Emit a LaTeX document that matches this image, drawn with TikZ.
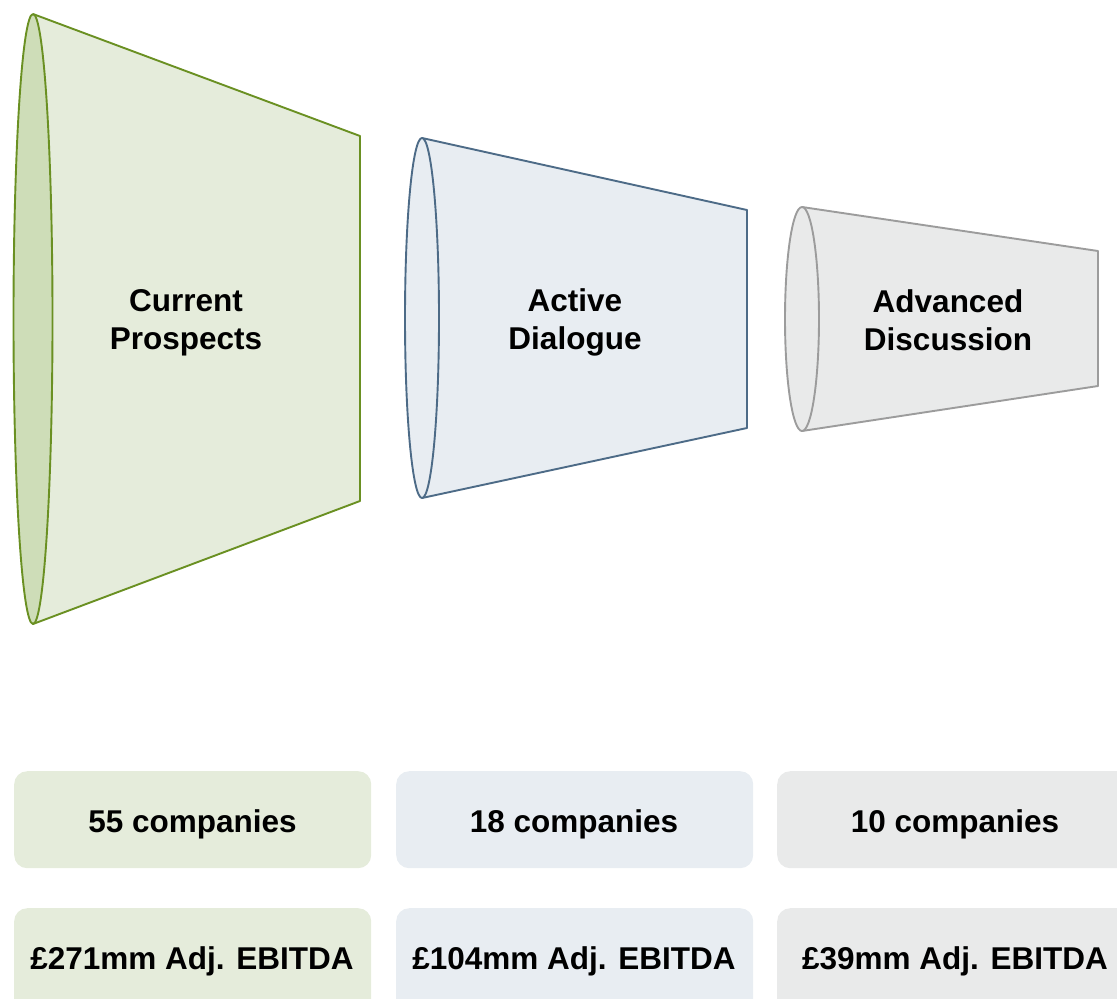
\documentclass[tikz,border=0pt]{standalone}
\usepackage{fontspec}
\setmainfont{Liberation Sans}
\begin{document}
\begin{tikzpicture}[x=1pt,y=-1pt,
  lbl/.style={font=\fontsize{31.5}{38}\selectfont\bfseries, align=center, text=black, inner sep=0pt},
  boxlbl/.style={lbl, anchor=base},
  infobox/.style={rounded corners=13pt, minimum width=357pt, minimum height=97pt, inner sep=0pt, anchor=north west},
  edge/.style={line width=1.9pt, line join=round}]
\definecolor{gline}{HTML}{6A9022}
\definecolor{gfill}{HTML}{E5ECDB}
\definecolor{grim}{HTML}{CEDDB8}
\definecolor{bline}{HTML}{4D6B87}
\definecolor{bfill}{HTML}{E8EDF2}
\definecolor{kline}{HTML}{9C9C9C}
\definecolor{kfill}{HTML}{E9EAEA}
\useasboundingbox (0,0) rectangle (1117,999);
\clip (0,0) rectangle (1117,999);

% funnel: #1 centre x, #2 centre y, #3 rim half-width, #4 rim half-height,
% #5 right edge x, #6 right top y, #7 right bottom y, #8 line, #9 fill; rim fill from \rimcol
\newcommand{\funnelpart}[9]{%
  \fill[#9] (#1,#2-#4) -- (#5,#6) -- (#5,#7) -- (#1,#2+#4) -- cycle;
  \draw[edge,#8] (#1,#2-#4) -- (#5,#6) -- (#5,#7) -- (#1,#2+#4);
  \draw[edge,#8,fill=\rimcol] (#1,#2) ellipse [x radius=#3, y radius=#4];
}

\def\rimcol{grim}
\funnelpart{33}{319}{19.5}{305}{360}{136}{501}{gline}{gfill}
\def\rimcol{bfill}
\funnelpart{422}{318}{17}{180}{747}{210}{428}{bline}{bfill}
\def\rimcol{kfill}
\funnelpart{802}{319}{17}{112}{1098}{251}{386}{kline}{kfill}

\node[lbl] (stage1) at (186,323) {Current\\Prospects};
\node[lbl] (stage2) at (575,322) {Active\\Dialogue};
\node[lbl] (stage3) at (948,320) {Advanced\\Discussion};

\node[infobox, fill=gfill] (count1) at (14,771) {};
\node[infobox, fill=bfill] (count2) at (396,771) {};
\node[infobox, fill=kfill, minimum width=380pt] (count3) at (777,771) {};
\node[boxlbl] (count1t) at (192.5,832.5) {55 companies};
\node[boxlbl] (count2t) at (574,832.5) {18 companies};
\node[boxlbl] (count3t) at (955,832.5) {10 companies};

\node[infobox, fill=gfill, minimum height=120pt] (ebit1) at (14,908) {};
\node[infobox, fill=bfill, minimum height=120pt] (ebit2) at (396,908) {};
\node[infobox, fill=kfill, minimum width=380pt, minimum height=120pt] (ebit3) at (777,908) {};
\node[boxlbl] (ebit1t) at (192,969) {£271mm Adj. EBITDA};
\node[boxlbl] (ebit2t) at (574,969) {£104mm Adj. EBITDA};
\node[boxlbl] (ebit3t) at (955,969) {£39mm Adj. EBITDA};
\end{tikzpicture}
\end{document}
